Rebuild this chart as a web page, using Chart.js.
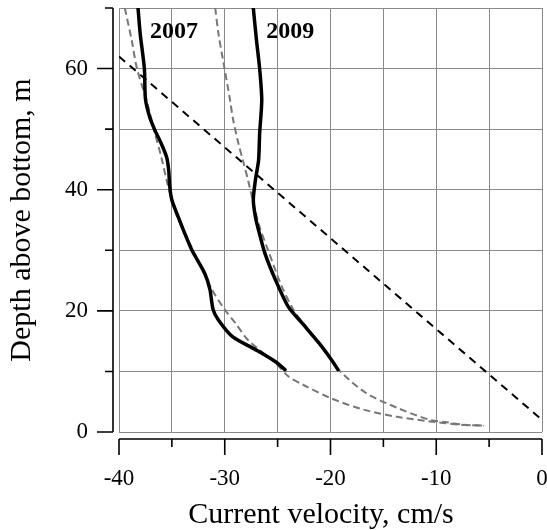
<!DOCTYPE html>
<html>
<head>
<meta charset="utf-8">
<script src="https://cdn.jsdelivr.net/npm/chart.js@4"></script>
<style>
  html,body{margin:0;padding:0;background:#fff}
</style>
</head>
<body>
<canvas id="profile" width="547" height="530"></canvas>
<script>
// measured profiles (velocity cm/s vs height above bottom m)
const obs2007Depth = [70, 65.8, 60, 55, 52, 49.8, 47.6, 45.4, 43.2, 40.5, 38.3, 35.5, 33.3, 30, 26.2, 23.5, 20.2, 18.5, 15.8, 13.6, 11.6, 10.3];
const obs2007Vel   = [-38.2, -38.0, -37.6, -37.5, -37.1, -36.6, -36.0, -35.5, -35.3, -35.2, -35.0, -34.4, -33.9, -33.1, -31.9, -31.4, -31.1, -30.6, -29.3, -27.1, -25.2, -24.3];

const obs2009Depth = [70, 64.7, 60, 54.8, 49.3, 44.9, 41.6, 38.3, 35.5, 33.3, 29.5, 25.1, 20.7, 18, 14.7, 11.9, 10.3];
const obs2009Vel   = [-27.3, -27.0, -26.7, -26.5, -26.7, -26.8, -27.1, -27.3, -27.1, -26.8, -26.2, -25.2, -24.0, -22.7, -21.1, -19.9, -19.3];

// fitted profiles (grey dashed)
const fit2007Depth = [70, 64.7, 60, 54.8, 49.3, 45.4, 41.6, 36, 30, 23.5, 20.2, 18, 15.2, 11.4, 9.2, 7.8, 5.6, 3.7, 2.5, 1.75, 1.2, 1.04];
const fit2007Vel   = [-39.45, -38.8, -38.3, -37.4, -36.6, -36.0, -35.5, -34.6, -33.0, -31.2, -30.0, -29.0, -27.8, -25.2, -24.0, -22.6, -20.0, -16.9, -13.7, -10.6, -7.7, -5.5];

const fit2009Depth = [70, 65.8, 60.8, 54.8, 51.5, 47.6, 44.3, 41.6, 34.4, 30, 24, 19.6, 16.3, 12.5, 9.7, 6.4, 4.0, 2.0, 1.6, 1.2, 1.04];
const fit2009Vel   = [-30.9, -30.6, -30.1, -29.5, -29.2, -28.7, -28.2, -27.8, -26.8, -25.9, -24.6, -23.3, -21.8, -20.2, -18.9, -16.6, -13.7, -10.6, -9.0, -7.4, -5.5];

// straight reference line (black dashed)
const refDepth = [62, 2];
const refVel   = [-40, 0];

const yearLabels = [
  {text: '2007', vel: -34.8, depth: 66.1},
  {text: '2009', vel: -23.8, depth: 66.1}
];

const xTitle = 'Current velocity, cm/s';
const yTitle = 'Depth above bottom, m';

const serif = '"Liberation Serif", "Times New Roman", serif';

function pts(vel, depth){ return vel.map((v,i)=>({x: v, y: depth[i]})); }

// axis lines sit a few px outside the plot frame, like the original
const offsetAxes = {
  id: 'offsetAxes',
  afterDraw(chart){
    const {ctx, chartArea: a, scales: {x, y}} = chart;
    ctx.save();
    ctx.strokeStyle = '#000';
    ctx.lineWidth = 1.6;
    ctx.beginPath();
    const ax = a.left - 6;
    ctx.moveTo(ax, a.top); ctx.lineTo(ax, a.bottom);
    y.ticks.forEach(t=>{
      const p = y.getPixelForValue(t.value);
      const len = t.value % 20 === 0 ? 16 : 8;
      ctx.moveTo(ax - len, p); ctx.lineTo(ax, p);
    });
    const ay = a.bottom + 7;
    ctx.moveTo(a.left, ay); ctx.lineTo(a.right, ay);
    x.ticks.forEach(t=>{
      const p = x.getPixelForValue(t.value);
      const len = t.value % 10 === 0 ? 16 : 8;
      ctx.moveTo(p, ay); ctx.lineTo(p, ay + len);
    });
    ctx.stroke();

    ctx.fillStyle = '#000';
    ctx.font = 'bold 24px ' + serif;
    ctx.textAlign = 'center';
    ctx.textBaseline = 'middle';
    yearLabels.forEach(l=>{
      ctx.fillText(l.text, x.getPixelForValue(l.vel), y.getPixelForValue(l.depth));
    });

    // x title is a bit left of the axis centre in the original
    ctx.font = '30px ' + serif;
    ctx.textBaseline = 'alphabetic';
    ctx.fillText(xTitle, a.left + 202, 523);
    ctx.restore();
  }
};

function noPad(s){ s.paddingTop = 0; s.paddingBottom = 0; s.paddingLeft = 0; s.paddingRight = 0; }

const ctx = document.getElementById('profile').getContext('2d');
new Chart(ctx, {
  type: 'line',
  data: {
    datasets: [
      {data: pts(obs2007Vel, obs2007Depth), borderColor: '#000', borderWidth: 3.5, tension: 0.25, borderCapStyle: 'round'},
      {data: pts(obs2009Vel, obs2009Depth), borderColor: '#000', borderWidth: 3.5, tension: 0.25, borderCapStyle: 'round'},
      {data: pts(fit2007Vel, fit2007Depth), borderColor: '#777', borderWidth: 2, borderDash: [7, 4], tension: 0.3},
      {data: pts(fit2009Vel, fit2009Depth), borderColor: '#777', borderWidth: 2, borderDash: [7, 4], tension: 0.3},
      {data: pts(refVel, refDepth), borderColor: '#000', borderWidth: 2, borderDash: [8, 6], tension: 0}
    ]
  },
  options: {
    responsive: false,
    animation: false,
    devicePixelRatio: 1,
    layout: {padding: {top: 8, right: 5, left: 0, bottom: 0}},
    elements: {point: {radius: 0}},
    plugins: {legend: {display: false}, tooltip: {enabled: false}},
    scales: {
      x: {
        type: 'linear', min: -40, max: 0,
        afterFit: s => { s.height = 98; noPad(s); },
        grid: {color: '#8a8a8a', lineWidth: 1, drawTicks: false},
        border: {display: false},
        ticks: {
          stepSize: 5, autoSkip: false, maxRotation: 0, padding: 33, color: '#000',
          font: {family: serif, size: 23, lineHeight: 1.2},
          callback: v => v % 10 === 0 ? String(v) : ''
        },
        title: {display: false}
      },
      y: {
        type: 'linear', min: 0, max: 70,
        afterFit: s => { s.width = 119; noPad(s); },
        grid: {color: '#8a8a8a', lineWidth: 1, drawTicks: false},
        border: {display: false},
        ticks: {
          stepSize: 10, autoSkip: false, padding: 31, color: '#000',
          font: {family: serif, size: 23},
          callback: v => v % 20 === 0 ? String(v) : ''
        },
        title: {display: true, text: yTitle, color: '#000', padding: {top: 9, bottom: 0},
                font: {family: serif, size: 30, lineHeight: 0.9}}
      }
    }
  },
  plugins: [offsetAxes]
});
</script>
</body>
</html>
